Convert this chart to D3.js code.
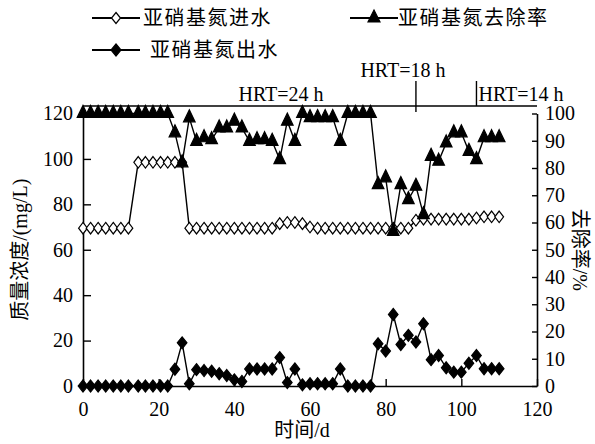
<!DOCTYPE html>
<html><head><meta charset="utf-8">
<script src="https://cdn.jsdelivr.net/npm/d3@7"></script>
<style>
html,body{margin:0;padding:0;background:#fff;}
svg text{font-family:"Liberation Serif","Noto Sans CJK SC",serif;fill:#000;}
</style></head>
<body>
<svg id="c" width="595" height="444"></svg>
<script>
// ---- data ----
const days = [0,2,4,6,8,10,12,14.6,16.5,18.5,20.5,22.4,24.3,26.2,28.1,30,32,34,36,38,40,42,44,46,48,50,52,54,56,58,60,62,64,66,68,70,72,74,76,78,80,82,84,86,88,90,92,94,96,98,100,102,104,106,108,110];
const influent = [69.5,69.5,69.5,69.5,69.5,69.5,69.5, 98.5,98.5,98.5,98.5,98.5,98.5,98.5, 69.5,
  69.5,69.5,69.5,69.5,69.5,69.5,69.5,69.5,69.5,69.5,69.5, 71.5,72,72,71.5, 70,
  69.5,69.5,69.5,69.5,69.5,69.5,69.5,69.5,69.5,69.5,69.5,69.5,69.5,
  73,73.5,73.5,73.5,73.5,73.5,73.5,73.5,74,74.5,74.5,74.5];
const effluent = [0,0,0,0,0,0,0, 0,0,0,0,0, 7.4,19,1,
  7.2,6.8,6.5,5.4,4.6,2.7,2,7.5,7.5,7.5,7.5, 12.5,1.5,7.5,0.5,
  1,1,1,1,7.5,0,0,0,0, 18.6,15.4,31.5,18.3,22.3,19.4,27.4,
  11.6,13.4,8,6.1,6.1,10,13.4,7.6,7.6,7.6];
const removal = [100,100,100,100,100,100,100, 100,100,100,100,100, 92.9,81.9,98.4,
  89.8,91.1,90.4,94.7,94.7,97.2,94.7,89.8,90.4,90.4,89.8, 83.1,97.2,89.8,100,
  98.5,98.5,98.5,98.5,89.8,100,100,100,100, 73.9,76.4,56.7,73.9,68.4,73.3,62.9,
  84.3,82.5,89.2,92.9,92.9,86.1,83.1,91.1,91.1,91.1];
const xTicks = [0,20,40,60,80,100,120];
const leftTicks = [0,20,40,60,80,100,120];
const rightTicks = [0,10,20,30,40,50,60,70,80,90,100];
const seriesNames = ["亚硝基氮进水","亚硝基氮去除率","亚硝基氮出水"];
const hrtLabels = ["HRT=24 h","HRT=18 h","HRT=14 h"];
const hrtBreaks = [88,104];
const xTitle = "时间/d", yLeftTitle = "质量浓度/(mg/L)", yRightTitle = "去除率/%";

// ---- layout ----
const svg = d3.select("#c");
const L = 83, R = 537, T = 113.5, B = 386;
const x = d3.scaleLinear().domain([0,120]).range([L,R]);
const yL = d3.scaleLinear().domain([0,120]).range([B,T]);
const yR = d3.scaleLinear().domain([0,100]).range([B,T]);
const FS = 20;

// axes
const gx = svg.append("g").attr("transform",`translate(0,${B})`)
  .call(d3.axisBottom(x).tickValues(xTicks).tickSizeInner(-7).tickSizeOuter(0).tickPadding(12));
const gl = svg.append("g").attr("transform",`translate(${L},0)`)
  .call(d3.axisLeft(yL).tickValues(leftTicks).tickSizeInner(-8).tickSizeOuter(0).tickPadding(10));
const gr = svg.append("g").attr("transform",`translate(${R},0)`)
  .call(d3.axisRight(yR).tickValues(rightTicks).tickSizeInner(-5).tickSizeOuter(0).tickPadding(8));
[gx,gl,gr].forEach(g=>{
  g.selectAll("path.domain").attr("stroke","#000").attr("stroke-width",1.6);
  g.selectAll(".tick line").attr("stroke","#000").attr("stroke-width",1.4);
  g.selectAll(".tick text").attr("font-size",FS).attr("font-family","Liberation Serif");
});
gx.selectAll(".tick text").attr("dy","0.9em");

// HRT annotations
svg.append("line").attr("x1",L).attr("x2",R).attr("y1",106).attr("y2",106).attr("stroke","#000").attr("stroke-width",1.4);
svg.append("line").attr("x1",x(hrtBreaks[0])).attr("x2",x(hrtBreaks[0])).attr("y1",81).attr("y2",112).attr("stroke","#000").attr("stroke-width",1.4);
svg.append("line").attr("x1",x(hrtBreaks[1])).attr("x2",x(hrtBreaks[1])).attr("y1",81).attr("y2",106).attr("stroke","#000").attr("stroke-width",1.4);
svg.append("text").attr("x",281).attr("y",101).attr("text-anchor","middle").attr("font-size",FS).text(hrtLabels[0]);
svg.append("text").attr("x",x(hrtBreaks[0])-13).attr("y",77).attr("text-anchor","middle").attr("font-size",FS).text(hrtLabels[1]);
svg.append("text").attr("x",x(hrtBreaks[1])+2).attr("y",101).attr("text-anchor","start").attr("font-size",FS).text(hrtLabels[2]);

// markers
const diamond = (hw,hh)=>`M0,${-hh}L${hw},0L0,${hh}L${-hw},0Z`;
const tri = (hw,h)=>`M0,${-h*2/3}L${hw},${h/3}L${-hw},${h/3}Z`;
function drawSeries(vals, yS, shape, fill){
  const line = d3.line().x((d,i)=>x(days[i])).y(d=>yS(d));
  svg.append("path").datum(vals).attr("d",line).attr("fill","none").attr("stroke","#000").attr("stroke-width",1.4);
  svg.append("g").selectAll("path").data(vals).join("path")
    .attr("transform",(d,i)=>`translate(${x(days[i])},${yS(d)})`)
    .attr("d",shape).attr("fill",fill).attr("stroke","#000").attr("stroke-width",1.2);
}
drawSeries(influent, yL, diamond(4.4,5.8), "#fff");
drawSeries(effluent, yL, diamond(4.8,6), "#000");
drawSeries(removal, yR, tri(5.8,12), "#000");

// legend
function legendItem(x0, y0, shape, fill, label, tx){
  svg.append("line").attr("x1",x0).attr("x2",x0+48).attr("y1",y0).attr("y2",y0).attr("stroke","#000").attr("stroke-width",1.8);
  svg.append("path").attr("transform",`translate(${x0+24},${y0})`).attr("d",shape).attr("fill",fill).attr("stroke","#000").attr("stroke-width",1.2);
  svg.append("text").attr("x",tx).attr("y",y0).attr("dy","0.36em").attr("font-size",20).attr("letter-spacing",1.5).text(label);
}
legendItem(92,18,diamond(4.5,5.5),"#fff",seriesNames[0],143);
legendItem(350,18,tri(6,12),"#000",seriesNames[1],398);
legendItem(92,50,diamond(5,6),"#000",seriesNames[2],150);

// axis titles
svg.append("text").attr("x",(L+R)/2-8).attr("y",437).attr("text-anchor","middle").attr("font-size",20).text(xTitle);
svg.append("text").attr("transform",`translate(20,${(T+B)/2}) rotate(-90)`).attr("text-anchor","middle").attr("dy","0.35em").attr("font-size",20).text(yLeftTitle);
svg.append("text").attr("transform",`translate(580,${(T+B)/2}) rotate(90)`).attr("text-anchor","middle").attr("dy","0.35em").attr("font-size",20).text(yRightTitle);
</script>
</body></html>
